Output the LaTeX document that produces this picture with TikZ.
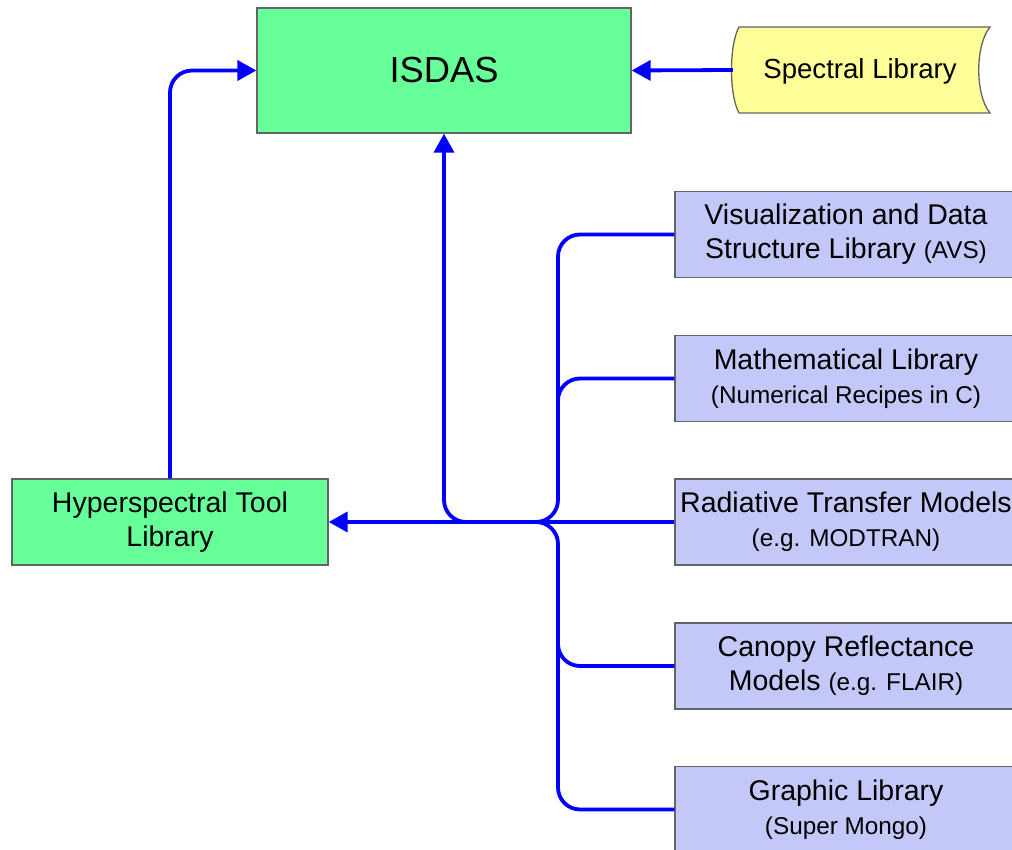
\documentclass[tikz,border=0pt]{standalone}
\usepackage{fontspec}
\setmainfont{Liberation Sans}
\usetikzlibrary{arrows.meta}
\definecolor{boxgreen}{RGB}{102,255,153}
\definecolor{boxyellow}{RGB}{255,255,153}
\definecolor{boxlav}{RGB}{196,200,248}
\definecolor{edgegray}{RGB}{100,100,100}
\tikzset{
  box/.style={draw=edgegray, line width=1.3pt, align=center, inner sep=0pt},
  greenbox/.style={box, fill=boxgreen},
  libbox/.style={box, fill=boxlav, minimum width=342pt, minimum height=86pt, font=\fontsize{28.5}{34}\selectfont},
  conn/.style={draw=blue, line width=3.8pt, rounded corners=22pt},
  arr/.style={conn, -{Triangle[length=19pt,width=20pt]}},
}
\newcommand{\sm}[1]{{\fontsize{24.3}{28}\selectfont #1}}
\begin{document}
\begin{tikzpicture}[x=1pt,y=-1pt]
\clip (0,0) rectangle (1012,850);
\fill[white] (0,0) rectangle (1012,850);
% nodes
\node[greenbox, minimum width=374pt, minimum height=125pt, font=\fontsize{36.3}{40}\selectfont] (isdas) at (444,70.5) {ISDAS};
\node[inner sep=0pt, minimum width=257pt, minimum height=86pt] (spec) at (861.5,70) {};
\fill[boxyellow, draw=edgegray, line width=1.3pt]
  (739,27) -- (990,27)
  .. controls (975,45) and (975,95) .. (990,113)
  -- (739,113)
  .. controls (729,95) and (729,45) .. (739,27) -- cycle;
\node[font=\fontsize{27.6}{34}\selectfont] at (860,71) {Spectral Library};
\node[greenbox, minimum width=316pt, minimum height=86pt, font=\fontsize{28.5}{34}\selectfont] (hyper) at (170,522) {Hyperspectral Tool\\Library};
\node[libbox] (b1) at (846,234.5) {Visualization and Data\\Structure Library \sm{(AVS)}};
\node[libbox] (b2) at (846,378.5) {Mathematical Library\\\sm{(Numerical Recipes in C)}};
\node[libbox] (b3) at (846,522) {Radiative Transfer Models\\\sm{(e.g. MODTRAN)}};
\node[libbox] (b4) at (846,666) {Canopy Reflectance\\Models \sm{(e.g. FLAIR)}};
\node[libbox] (b5) at (846,809.5) {Graphic Library\\\sm{(Super Mongo)}};
\coordinate (bus) at (558,522);
% connectors
\draw[arr] (spec.west) -- (isdas.east);
\draw[arr] (hyper.north) |- (isdas.west);
\draw[conn] (b1.west) -- (b1.west -| bus) -- (bus) -- ([xshift=-40pt]bus);
\draw[conn] (b2.west) -- (b2.west -| bus) -- ++(0,60);
\draw[conn] (b4.west) -- (b4.west -| bus) -- ++(0,-60);
\draw[conn] (b5.west) -- (b5.west -| bus) -- (bus) -- ([xshift=-40pt]bus);
\draw[arr] (bus) -- (isdas.south |- bus) -- (isdas.south);
\draw[arr, rounded corners=0pt] (b3.west) -- (hyper.east);
\end{tikzpicture}
\end{document}
